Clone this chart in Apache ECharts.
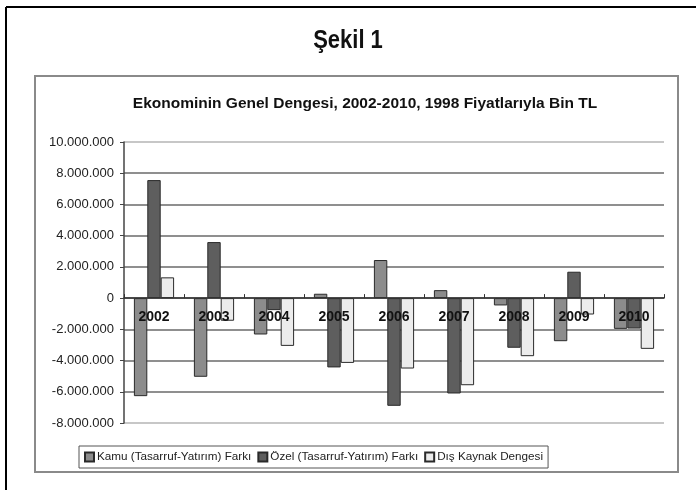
<!DOCTYPE html>
<html>
<head>
<meta charset="utf-8">
<script src="https://cdn.jsdelivr.net/npm/echarts@6/dist/echarts.min.js"></script>
<style>
html,body{margin:0;padding:0;background:#fff;}
#c{width:696px;height:490px;}
</style>
</head>
<body>
<div id="c"></div>
<script>
var categories = ['2002','2003','2004','2005','2006','2007','2008','2009','2010'];
var kamu = [-6280000, -5040000, -2330000, 280000, 2440000, 510000, -470000, -2760000, -1970000];
var ozel = [7560000, 3590000, -770000, -4440000, -6900000, -6110000, -3180000, 1690000, -1950000];
var disKaynak = [1330000, -1450000, -3060000, -4150000, -4510000, -5580000, -3720000, -1050000, -3250000];
var seriesNames = ['Kamu (Tasarruf-Yatırım) Farkı', 'Özel (Tasarruf-Yatırım) Farkı', 'Dış Kaynak Dengesi'];
var figureTitle = 'Şekil 1';
var chartTitle = 'Ekonominin Genel Dengesi, 2002-2010, 1998 Fiyatlarıyla Bin TL';

function fmt(v){
  var neg = v < 0; var s = String(Math.abs(v));
  s = s.replace(/\B(?=(\d{3})+(?!\d))/g, '.');
  return (neg ? '-' : '') + s;
}

var chart = echarts.init(document.getElementById('c'), null, {renderer:'canvas'});
var font = 'Liberation Sans, Arial, sans-serif';
var gridColors = ['#b5b5b5','#6a6a6a','#6a6a6a','#6a6a6a','#6a6a6a','#6a6a6a','#6a6a6a','#6a6a6a','#6a6a6a','#b5b5b5'];

function mk(name, data, color){
  return {
    name: name, type: 'bar', data: data,
    barGap: '0%', barCategoryGap: '33%',
    itemStyle: {color: color, borderColor: '#2a2a2a', borderWidth: 1}
  };
}

chart.setOption({
  animation: false,
  backgroundColor: '#fff',
  textStyle: {fontFamily: font},
  title: [
    {text: chartTitle, left: 360, top: 91, textAlign: 'center',
     textStyle: {fontFamily: font, fontSize: 15.5, fontWeight: 'bold', color: '#111'}}
  ],
  graphic: [
    {type: 'line', shape: {x1: 6, y1: 7, x2: 696, y2: 7}, style: {stroke: '#000', lineWidth: 2}},
    {type: 'line', shape: {x1: 6, y1: 7, x2: 6, y2: 490}, style: {stroke: '#000', lineWidth: 2}},
    {type: 'rect', shape: {x: 35, y: 76, width: 643, height: 396}, style: {fill: 'none', stroke: '#8a8a8a', lineWidth: 2}, z: -1},
    {type: 'text', x: 348, y: 41, scaleX: 0.88, style: {text: figureTitle, font: 'bold 25px Liberation Sans, Arial, sans-serif', fill: '#111', textAlign: 'center', textVerticalAlign: 'middle'}}
  ],
  legend: {
    data: seriesNames,
    left: 79, top: 446,
    orient: 'horizontal',
    icon: 'rect',
    itemWidth: 9, itemHeight: 9, itemGap: 6,
    padding: [5, 5, 5, 5],
    borderColor: '#555', borderWidth: 1,
    textStyle: {fontFamily: font, fontSize: 11.7, color: '#222', padding: [0,0,0,-2]}
  },
  grid: {left: 124, right: 32, top: 142, bottom: 67, show: false},
  xAxis: {
    type: 'category', data: categories,
    z: 10,
    axisLine: {onZero: true, lineStyle: {color: '#333', width: 1.5}},
    axisTick: {show: true, inside: true, length: 4, lineStyle: {color: '#333'}},
    axisLabel: {fontFamily: font, fontSize: 14, fontWeight: 'bold', color: '#111', margin: -113}
  },
  yAxis: {
    type: 'value', min: -8000000, max: 10000000, interval: 2000000,
    axisLine: {show: true, lineStyle: {color: '#444', width: 1.5}},
    axisTick: {show: true, length: 4, lineStyle: {color: '#444'}},
    axisLabel: {fontFamily: font, fontSize: 13, color: '#222', margin: 10, formatter: fmt},
    splitLine: {show: true, lineStyle: {color: gridColors, width: 1.5}}
  },
  series: [
    mk(seriesNames[0], kamu, '#8c8c8c'),
    mk(seriesNames[1], ozel, '#5e5e5e'),
    mk(seriesNames[2], disKaynak, '#ececec')
  ]
});
</script>
</body>
</html>
